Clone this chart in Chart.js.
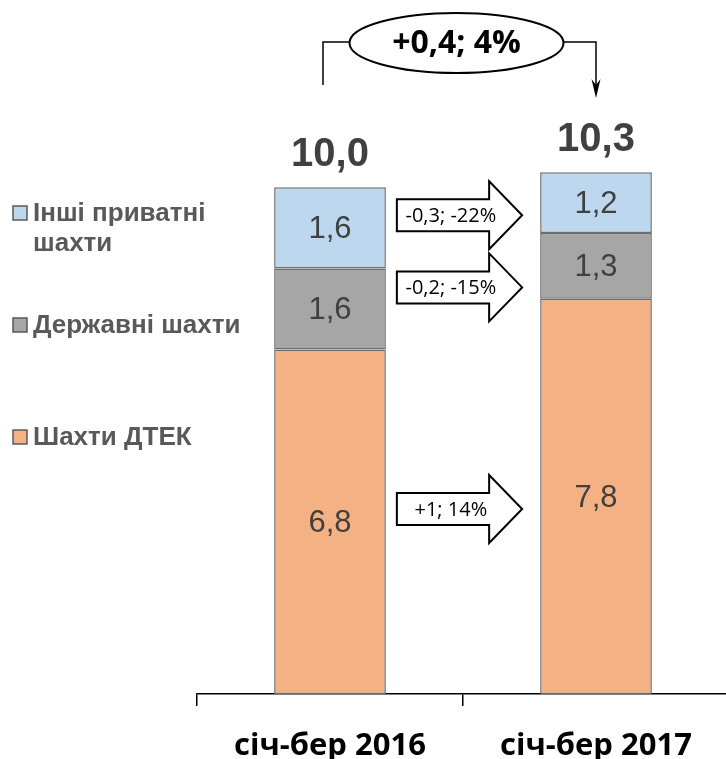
<!DOCTYPE html>
<html>
<head>
<meta charset="utf-8">
<script src="https://cdn.jsdelivr.net/npm/chart.js@4"></script>
<style>
  html, body { margin: 0; padding: 0; background: #fff; overflow: hidden; }
  #wrap { width: 730px; height: 759px; position: relative; }
</style>
</head>
<body>
<div id="wrap"><canvas id="myChart"></canvas></div>
<script>
// coal output, Jan-Mar (mln t)
const categories = ["січ-бер 2016", "січ-бер 2017"];
const dtekMines = [6.8, 7.8];
const stateMines = [1.6, 1.3];
const otherMines = [1.6, 1.2];
const seriesNames = ["Шахти ДТЕК", "Державні шахти", "Інші приватні шахти"];
const legendLines = [["Шахти ДТЕК"], ["Державні шахти"], ["Інші приватні", "шахти"]];
const changeLabels = ["+1; 14%", "-0,2; -15%", "-0,3; -22%"];
const totalChange = "+0,4; 4%";

const colors = ["#F4B183", "#A6A6A6", "#BDD7EE"];
const fmt = (v) => v.toFixed(1).replace(".", ",");

const drawArrow = (ctx, x0, x1, yc, text) => {
  const bh = 16, hh = 34, hl = 33;
  ctx.beginPath();
  ctx.moveTo(x0, yc - bh);
  ctx.lineTo(x1 - hl, yc - bh);
  ctx.lineTo(x1 - hl, yc - hh);
  ctx.lineTo(x1, yc);
  ctx.lineTo(x1 - hl, yc + hh);
  ctx.lineTo(x1 - hl, yc + bh);
  ctx.lineTo(x0, yc + bh);
  ctx.closePath();
  ctx.fillStyle = "#fff";
  ctx.fill();
  ctx.lineWidth = 2;
  ctx.strokeStyle = "#000";
  ctx.stroke();
  ctx.fillStyle = "#000";
  ctx.font = "20px 'Open Sans'";
  ctx.textAlign = "center";
  ctx.textBaseline = "middle";
  ctx.fillText(text, x0 + 54, yc + 1);
};

const annotations = {
  id: "annotations",
  afterDatasetsDraw(chart) {
    const ctx = chart.ctx;
    const metas = chart.data.datasets.map((d, i) => chart.getDatasetMeta(i));
    ctx.save();

    // values inside segments
    ctx.font = "31px 'Liberation Sans'";
    ctx.fillStyle = "#404040";
    ctx.textAlign = "center";
    ctx.textBaseline = "middle";
    metas.forEach((meta, di) => {
      meta.data.forEach((el, i) => {
        const v = chart.data.datasets[di].data[i];
        ctx.fillText(fmt(v), el.x, (el.y + el.base) / 2 + 2);
      });
    });

    // totals above bars
    const top = metas[metas.length - 1];
    ctx.font = "bold 40px 'Liberation Sans'";
    ctx.textBaseline = "alphabetic";
    categories.forEach((c, i) => {
      const total = dtekMines[i] + stateMines[i] + otherMines[i];
      const el = top.data[i];
      ctx.fillText(fmt(total), el.x, el.y - 21);
    });

    // change arrows between bars
    const b1 = metas[0].data[0], b2 = metas[0].data[1];
    const x0 = b1.x + b1.width / 2 + 11;
    const x1 = b2.x - b2.width / 2 - 18;
    metas.forEach((meta, di) => {
      const m1 = (meta.data[0].y + meta.data[0].base) / 2;
      const m2 = (meta.data[1].y + meta.data[1].base) / 2;
      drawArrow(ctx, x0, x1, (m1 + m2) / 2, changeLabels[di]);
    });

    // bracket with total change
    const xl = b1.x - 7, xr = b2.x, yb = 42;
    ctx.strokeStyle = "#000";
    ctx.lineWidth = 1.5;
    ctx.beginPath();
    ctx.moveTo(xl, 85);
    ctx.lineTo(xl, yb);
    ctx.lineTo(xr, yb);
    ctx.lineTo(xr, 90);
    ctx.stroke();
    ctx.fillStyle = "#000";
    ctx.beginPath();
    ctx.moveTo(xr, 98);
    ctx.lineTo(xr - 4.5, 79);
    ctx.lineTo(xr, 85);
    ctx.lineTo(xr + 4.5, 79);
    ctx.closePath();
    ctx.fill();
    const ex = (xl + xr) / 2 - 3;
    ctx.beginPath();
    ctx.ellipse(ex, 43, 107, 30, 0, 0, Math.PI * 2);
    ctx.fillStyle = "#fff";
    ctx.fill();
    ctx.lineWidth = 2;
    ctx.stroke();
    ctx.fillStyle = "#000";
    ctx.font = "bold 32px 'Open Sans'";
    ctx.textBaseline = "middle";
    ctx.fillText(totalChange, ex, 44);

    // legend on the left
    const legendY = [437, 325, 213];
    ctx.textAlign = "left";
    ctx.font = "bold 26px 'Liberation Sans'";
    legendLines.forEach((lines, i) => {
      const y = legendY[i];
      ctx.fillStyle = colors[i];
      ctx.fillRect(13, y - 7, 14, 14);
      ctx.strokeStyle = "#595959";
      ctx.lineWidth = 1.5;
      ctx.strokeRect(13, y - 7, 14, 14);
      ctx.fillStyle = "#595959";
      lines.forEach((t, k) => ctx.fillText(t, 33, y + 1 + k * 30));
    });

    ctx.restore();
  },
};

const datasets = [dtekMines, stateMines, otherMines].map((d, i) => ({
  label: seriesNames[i],
  data: d,
  backgroundColor: colors[i],
  borderColor: "#6d6d6d",
  borderWidth: 1.5,
  borderSkipped: false,
  barPercentage: 0.42,
  categoryPercentage: 1,
}));

new Chart(document.getElementById("myChart"), {
  type: "bar",
  data: { labels: categories, datasets },
  options: {
    responsive: true,
    maintainAspectRatio: false,
    animation: false,
    layout: { padding: { left: 197, right: 1, top: 86, bottom: 0 } },
    plugins: { legend: { display: false }, tooltip: { enabled: false } },
    scales: {
      x: {
        stacked: true,
        grid: { drawOnChartArea: false, color: "#000", lineWidth: 1.5, tickLength: 12, offset: true },
        border: { display: true, color: "#000", width: 1.5 },
        ticks: { color: "#000", font: { family: "Open Sans", size: 31, weight: "bold" }, padding: 22 },
        afterFit: (scale) => { scale.height = 65; },
      },
      y: { stacked: true, display: false, min: 0, max: 12 },
    },
  },
  plugins: [annotations],
});
</script>
</body>
</html>
